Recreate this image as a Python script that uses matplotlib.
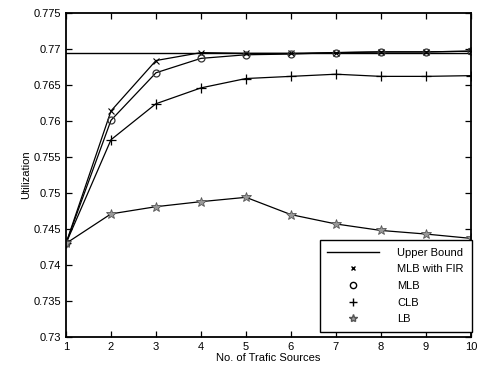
import matplotlib
matplotlib.use('Agg')
import matplotlib.pyplot as plt
from matplotlib.lines import Line2D

plt.rcParams['font.family'] = ['Liberation Sans', 'DejaVu Sans']

sources = [1, 2, 3, 4, 5, 6, 7, 8, 9, 10]
upper_bound = 0.7694
mlb_fir = [0.7430, 0.7614, 0.7684, 0.7695, 0.7694, 0.7694, 0.7695, 0.7696, 0.7696, 0.7697]
mlb = [0.7430, 0.7601, 0.7667, 0.7687, 0.7692, 0.7693, 0.7695, 0.7696, 0.7696, 0.7697]
clb = [0.7430, 0.7574, 0.7624, 0.7646, 0.7659, 0.7662, 0.7665, 0.7662, 0.7662, 0.7663]
lb = [0.7430, 0.7471, 0.7481, 0.7488, 0.7494, 0.7470, 0.7457, 0.7448, 0.7443, 0.7437]

fig = plt.figure(figsize=(4.8, 3.76), dpi=100)
ax = fig.add_axes([0.1375, 0.1037, 0.8435, 0.8617])

ax.axhline(upper_bound, color='black', linewidth=1.0)
ax.plot(sources, mlb_fir, color='black', linewidth=0.9, marker='x', markersize=4, markeredgewidth=0.8)
ax.plot(sources, mlb, color='black', linewidth=0.9, marker='o', markersize=5,
        markerfacecolor='none', markeredgecolor='#333333', markeredgewidth=0.9)
ax.plot(sources, clb, color='black', linewidth=0.9, marker='+', markersize=7, markeredgewidth=0.9)
ax.plot(sources, lb, color='black', linewidth=0.9, marker='*', markersize=7,
        markerfacecolor='#999999', markeredgecolor='#555555', markeredgewidth=0.6)

ax.set_xlim(1, 10)
ax.set_ylim(0.73, 0.775)
ax.set_xticks(sources)
ax.set_yticks([0.73, 0.735, 0.74, 0.745, 0.75, 0.755, 0.76, 0.765, 0.77, 0.775])
ax.set_yticklabels(['0.73', '0.735', '0.74', '0.745', '0.75', '0.755', '0.76', '0.765', '0.77', '0.775'])
ax.tick_params(direction='in', top=True, right=True, labelsize=8, length=4, width=0.9)
for s in ax.spines.values():
    s.set_linewidth(1.3)

ax.set_xlabel('No. of Trafic Sources', fontsize=8, labelpad=1)
ax.set_ylabel('Utilization', fontsize=8, labelpad=2)

handles = [
    Line2D([], [], color='black', linewidth=1.0),
    Line2D([], [], color='black', linestyle='none', marker='x', markersize=3.5),
    Line2D([], [], color='black', linestyle='none', marker='o', markersize=4.5, markerfacecolor='none'),
    Line2D([], [], color='black', linestyle='none', marker='+', markersize=6),
    Line2D([], [], color='#555555', linestyle='none', marker='*', markersize=6, markerfacecolor='#999999'),
]
labels = ['Upper Bound', 'MLB with FIR', 'MLB', 'CLB', 'LB']
leg = ax.legend(handles, labels, loc='lower right', bbox_to_anchor=(1.002, 0.015), fontsize=8,
                fancybox=False, framealpha=1, edgecolor='black', borderaxespad=0.0,
                handlelength=4.6, labelspacing=0.6, handletextpad=1.7, borderpad=0.7)
leg.get_frame().set_linewidth(1.0)

fig.savefig('out.png', dpi=100)
